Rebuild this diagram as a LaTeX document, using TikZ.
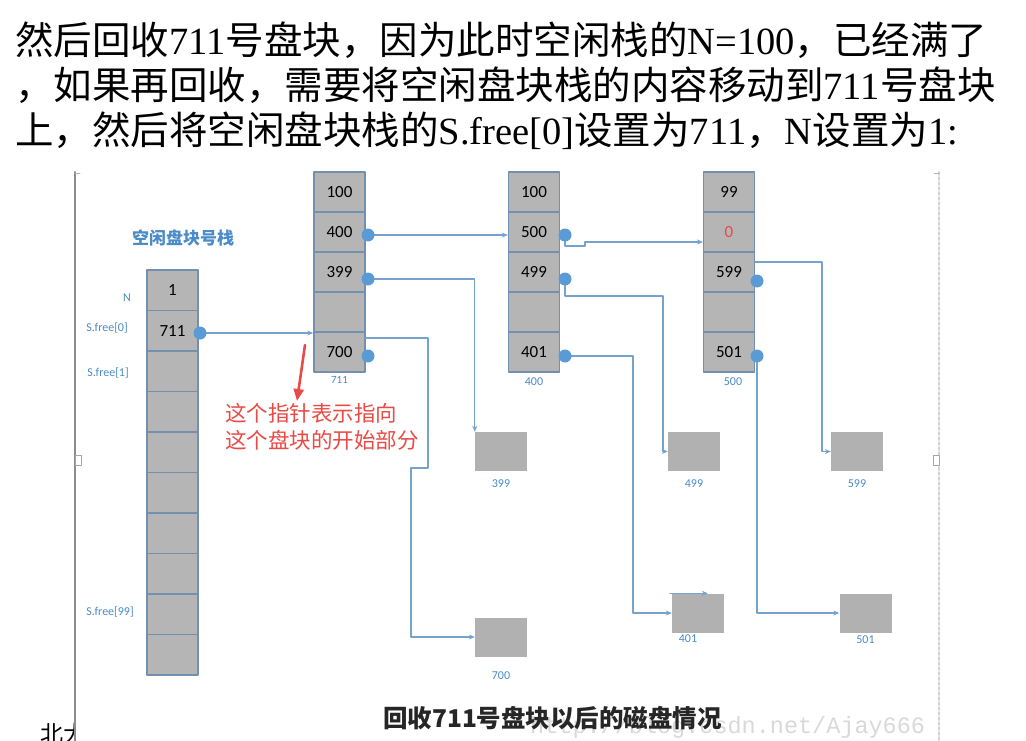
\documentclass[tikz,border=0pt]{standalone}
\usepackage{fontspec}
\setmainfont{Liberation Serif}
\newfontfamily\cjk{Noto Sans CJK SC}
\newfontfamily\numfont{Carlito}
\newfontfamily\webfont{Liberation Mono}
\usetikzlibrary{arrows.meta,positioning}

\definecolor{cellgray}{HTML}{B5B5B5}
\definecolor{blockgray}{HTML}{B1B1B1}
\definecolor{cellrule}{HTML}{7391AF}
\definecolor{linkblue}{HTML}{75A3CE}
\definecolor{dotblue}{HTML}{5B9BD5}
\definecolor{tagblue}{HTML}{4A8BC8}
\definecolor{notered}{HTML}{EA4A45}
\definecolor{framegray}{HTML}{8C8C8C}

\tikzset{
  slidetext/.style={anchor=base west,inner sep=0pt,font=\fontsize{38.5}{44}\selectfont},
  cell/.style={draw=cellrule,fill=cellgray,line width=1.4pt,minimum width=51pt,
    minimum height=40pt,inner sep=0pt,font=\numfont\fontsize{17}{17}\selectfont},
  block/.style={fill=blockgray,minimum width=52pt,minimum height=39pt,inner sep=0pt},
  tag/.style={text=tagblue,inner sep=0pt,font=\numfont\fontsize{12}{12}\selectfont},
  link/.style={draw=linkblue,line width=1.1pt,-{Stealth[length=6pt,width=5pt]}},
  redarr/.style={draw=notered,line width=2.6pt,-{Triangle[length=12pt,width=10pt]}},
}

\begin{document}
\begin{tikzpicture}[x=1pt,y=-1pt,line cap=round,line join=round]
  \useasboundingbox (0,0) rectangle (1026,741);
  \fill[white] (0,0) rectangle (1026,741);

  % Slide text above the picture
  \node[slidetext] (line1) at (15,55)
    {{\cjk 然后回收}711{\cjk 号盘块，因为此时空闲栈的}N=100{\cjk ，已经满了}};
  \node[slidetext] (line2) at (15,100)
    {{\cjk ，如果再回收，需要将空闲盘块栈的内容移动到}711{\cjk 号盘块}};
  \node[slidetext] (line3) at (15,145)
    {{\cjk 上，然后将空闲盘块栈的}S.free[0]{\cjk 设置为}711{\cjk ，}N{\cjk 设置为}1:};
  \node[slidetext,font=\cjk\fontsize{23}{23}\selectfont] (corner) at (40,742) {北大};

  % Picture area and its frame
  \fill[white] (76,172) rectangle (937,741);
  \draw[framegray,line width=2pt] (75,172) -- (75,741);
  \draw[gray!35,line width=1.5pt,dash pattern=on 3pt off 2pt] (939,172) -- (939,741);
  \draw[gray!70,line width=0.8pt,fill=white] (75,455) rectangle (81,465)
                                              (933,455) rectangle (939,465);
  \draw[gray!60,line width=0.8pt] (75,173) -- (80,173) (934,173) -- (939,173);

  \begin{scope}
  \clip (76,172) rectangle (937,741);

  % Free block number stack
  \node[font=\cjk\bfseries\fontsize{17}{17}\selectfont,text=tagblue] (title) at (183,238) {空闲盘块号栈};
  \foreach \t [count=\i from 0] in {1,711,{},{},{},{},{},{},{},{}}
    \node[cell,minimum height=40.5pt] (s\i) at (172.5,{290.25+40.5*\i}) {\t};
  \node[tag] (lN) at (127,298) {N};
  \node[tag] (l0) at (107,328) {S.free[0]};
  \node[tag] (l1) at (108,373) {S.free[1]};
  \node[tag] (l99) at (110,612) {S.free[99]};

  % Disk blocks 711, 400 and 500
  \foreach \t [count=\i from 0] in {100,400,399,{},700}
    \node[cell] (a\i) at (339.5,{192+40*\i}) {\t};
  \foreach \t [count=\i from 0] in {100,500,499,{},401}
    \node[cell] (b\i) at (534,{192+40*\i}) {\t};
  \foreach \t [count=\i from 0] in {99,{\textcolor{notered}{0}},599,{},501}
    \node[cell] (c\i) at (729,{192+40*\i}) {\t};
  \node[tag,font=\numfont\fontsize{11}{11}\selectfont,below=4pt of a4] (ta) {711};
  \node[tag,below=5pt of b4] (tb) {400};
  \node[tag,below=5pt of c4,xshift=4pt] (tc) {500};

  % Free blocks
  \node[block] (k399) at (501,451.5) {};
  \node[block] (k499) at (694,451.5) {};
  \node[block] (k599) at (857,451.5) {};
  \node[block] (k700) at (501,637) {};
  \node[block] (k401) at (698,613) {};
  \node[block] (k501) at (865.5,613) {};
  \node[tag,below=8pt of k399] (t399) {399};
  \node[tag,below=8pt of k499] (t499) {499};
  \node[tag,below=8pt of k599] (t599) {599};
  \node[tag,below=15pt of k700] (t700) {700};
  \node[tag,below=2pt of k401,xshift=-10pt] (t401) {401};
  \node[tag,below=3pt of k501] (t501) {501};

  % Pointers
  \coordinate (ps1) at (200,333);
  \coordinate (pa1) at (368,235);
  \coordinate (pa2) at (368,279);
  \coordinate (pa4) at (368,356);
  \coordinate (pb1) at (565,235);
  \coordinate (pb2) at (565,279);
  \coordinate (pb4) at (565,356);
  \coordinate (pc2) at (757,281);
  \coordinate (pc4) at (757,356);
  \coordinate (c1in) at (703,242);

  \draw[link] (ps1) -- (ps1 -| a4.west);
  \draw[link] (pa1) -- (pa1 -| b1.west);
  \draw[link] (pb1) |- (585,246) |- (c1in);
  \draw[link] (pa2) -| (k399.north west);
  \draw[link] ([yshift=14pt]a4.east) -| (428,468) -- (411,468) |- (k700.west);
  \draw[link] (pb2) |- (663,296) |- (k499.west);
  \draw[link] (pb4) -| (633,500) |- (k401.west);
  \draw[link] ([yshift=10pt]c2.east) -| (822,400) |- (k599.west);
  \draw[link] (pc4) |- (k501.west);
  \draw[link] ([xshift=-2pt]k401.north west) -- ([xshift=36pt]k401.north west);
  \foreach \p in {(ps1),(pa1),(pa2),(pa4),(pb1),(pb2),(pb4),(pc2),(pc4)}
    \fill[dotblue] \p circle (6.5pt);

  % Red note on the pointer
  \node[anchor=north west,inner sep=0pt,align=left,text=notered,
        font=\cjk\fontsize{21.5}{27}\selectfont] (note) at (225,403)
    {这个指针表示指向\\这个盘块的开始部分};
  \coordinate (ptrtail) at (305,345);
  \draw[redarr] (ptrtail) -- ([xshift=72pt,yshift=2pt]note.north west);

  % Caption and watermark
  \node[anchor=base west,inner sep=0pt,text=gray!30,font=\webfont\fontsize{23.5}{23.5}\selectfont]
    (mark) at (530,733) {http://blog.csdn.net/Ajay666};
  \node[anchor=base west,inner sep=0pt,text=black!85,font=\cjk\bfseries\fontsize{24.5}{25}\selectfont]
    (caption) at (383,727) {回收711号盘块以后的磁盘情况};
  \end{scope}
\end{tikzpicture}
\end{document}
